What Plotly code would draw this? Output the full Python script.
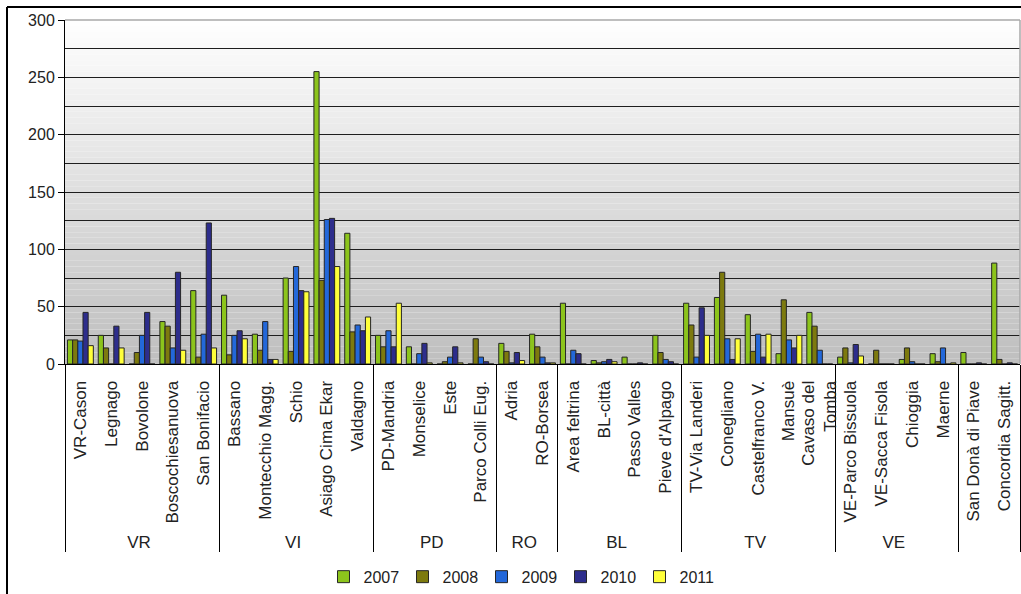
import plotly.graph_objects as go

# ---------------- data ----------------
provinces = ["VR"] * 5 + ["VI"] * 5 + ["PD"] * 4 + ["RO"] * 2 + ["BL"] * 4 + ["TV"] * 5 + ["VE"] * 4 + [" "] * 2
stations = ["VR-Cason", "Legnago", "Bovolone", "Boscochiesanuova", "San Bonifacio",
            "Bassano", "Montecchio Magg.", "Schio", "Asiago Cima Ekar", "Valdagno",
            "PD-Mandria", "Monselice", "Este", "Parco Colli Eug.",
            "Adria", "RO-Borsea",
            "Area feltrina", "BL-città", "Passo Valles", "Pieve d'Alpago",
            "TV-Via Landeri", "Conegliano", "Castelfranco V.", "Mansuè", "Cavaso del<br>Tomba",
            "VE-Parco Bissuola", "VE-Sacca Fisola", "Chioggia", "Maerne",
            "San Donà di Piave", "Concordia Sagitt."]

years = ["2007", "2008", "2009", "2010", "2011"]
v2007 = [21, 25, 0, 37, 64, 60, 26, 75, 255, 114, 25, 15, 0, 0, 18, 26, 53, 3, 6, 25, 53, 58, 43, 9, 45, 6, 0, 4, 9, 10, 88]
v2008 = [21, 14, 10, 33, 6, 8, 12, 11, 73, 28, 15, 0, 2, 22, 11, 15, 0, 1, 0, 10, 34, 80, 11, 56, 33, 14, 12, 14, 2, 0, 4]
v2009 = [20, 0, 25, 14, 26, 25, 37, 85, 126, 34, 29, 9, 6, 6, 1, 6, 12, 2, 0, 4, 6, 22, 26, 21, 12, 1, 0, 2, 14, 0, 0]
v2010 = [45, 33, 45, 80, 123, 29, 4, 64, 127, 29, 15, 18, 15, 2, 10, 1, 9, 4, 1, 2, 49, 4, 6, 14, 0, 17, 0, 0, 0, 1, 1]
v2011 = [16, 14, 0, 12, 14, 22, 4, 63, 85, 41, 53, 1, 1, 0, 3, 1, 0, 2, 0, 0, 25, 22, 26, 25, 0, 7, 0, 0, 1, 0, 0]
series = [v2007, v2008, v2009, v2010, v2011]

y_ticks = [0, 50, 100, 150, 200, 250, 300]
y_grid = [25, 50, 75, 100, 125, 150, 175, 200, 225, 250, 275]

# ---------------- style ----------------
colors = ["#8CC41C", "#7D7A0E", "#2368DA", "#2D2D8C", "#FFFF3A"]
W, H = 1021, 594
ML, MR, MT, MB = 65, 1, 20, 228
PW, PH = W - ML - MR, H - MT - MB
FONT = "Liberation Sans, Arial, sans-serif"

def px_x(p):
    return (p - ML) / PW

def px_y(p):
    return (H - MB - p) / PH

fig = go.Figure()
for name, vals, col in zip(years, series, colors):
    fig.add_trace(go.Bar(
        x=[provinces, stations], y=vals, name=name,
        marker=dict(color=col, line=dict(color="#262626", width=1)),
    ))

# gradient background bands (white at top to grey at bottom)
shapes = []
N = 60
for i in range(N):
    t = (i + 0.5) / N  # 0 bottom -> 1 top
    g = int(round(190 + (255 - 190) * t))
    shapes.append(dict(type="rect", xref="x domain", yref="y domain",
                       x0=0, x1=1, y0=i / N, y1=(i + 1) / N,
                       fillcolor=f"rgb({g},{g},{g})", line=dict(width=0), layer="below"))
# light plot border top/right
shapes.append(dict(type="line", xref="x domain", yref="y domain", x0=0, x1=1, y0=1, y1=1,
                   line=dict(color="#A8A8A8", width=1.5)))
shapes.append(dict(type="line", xref="x domain", yref="y domain", x0=1, x1=1, y0=0, y1=1,
                   line=dict(color="#A8A8A8", width=1.5)))
# outer chart frame (left & top)
shapes.append(dict(type="line", xref="paper", yref="paper", x0=px_x(7), x1=px_x(W + 5),
                   y0=px_y(7), y1=px_y(7), line=dict(color="black", width=2)))
shapes.append(dict(type="line", xref="paper", yref="paper", x0=px_x(7), x1=px_x(7),
                   y0=px_y(7), y1=px_y(H + 5), line=dict(color="black", width=2)))

fig.update_layout(
    width=W, height=H,
    margin=dict(l=ML, r=MR, t=MT, b=MB, pad=0),
    paper_bgcolor="white", plot_bgcolor="rgba(0,0,0,0)",
    font=dict(family=FONT, size=16, color="#222"),
    barmode="group", bargap=0.16, bargroupgap=0,
    shapes=shapes,
    showlegend=True,
    legend=dict(orientation="h", x=px_x(521), xanchor="center", y=px_y(580), yanchor="middle",
                font=dict(size=16, family=FONT, color="#222"), itemwidth=30,
                entrywidth=34,
                bgcolor="rgba(0,0,0,0)", traceorder="normal"),
    xaxis=dict(type="multicategory", tickangle=-90, ticks="", showgrid=False,
               showline=True, linecolor="black", linewidth=1,
               tickfont=dict(size=17, family=FONT, color="#222"),
               ticklabelstandoff=9,
               showdividers=True, dividercolor="black", dividerwidth=1,
               range=[-0.5, len(stations) - 0.5]),
    xaxis2=dict(overlaying="x", anchor="y", side="bottom", range=[-0.5, len(stations) - 0.5],
                tickmode="array", tickvals=[i - 0.5 for i in range(len(stations) + 1)],
                ticks="outside", ticklen=162, tickcolor="black", tickwidth=1,
                showticklabels=False, showgrid=False, zeroline=False, showline=False),
    yaxis=dict(range=[0, 300], tickvals=y_ticks, ticks="outside", ticklen=6,
               tickcolor="black", showline=True, linecolor="black", linewidth=1,
               showgrid=False, zeroline=False,
               minor=dict(tickmode="array", tickvals=y_grid, showgrid=True,
                          gridcolor="#1E1E1E", gridwidth=1, ticks=""),
               tickfont=dict(size=16, family=FONT, color="#222")),
)

fig.write_html("out.html")
